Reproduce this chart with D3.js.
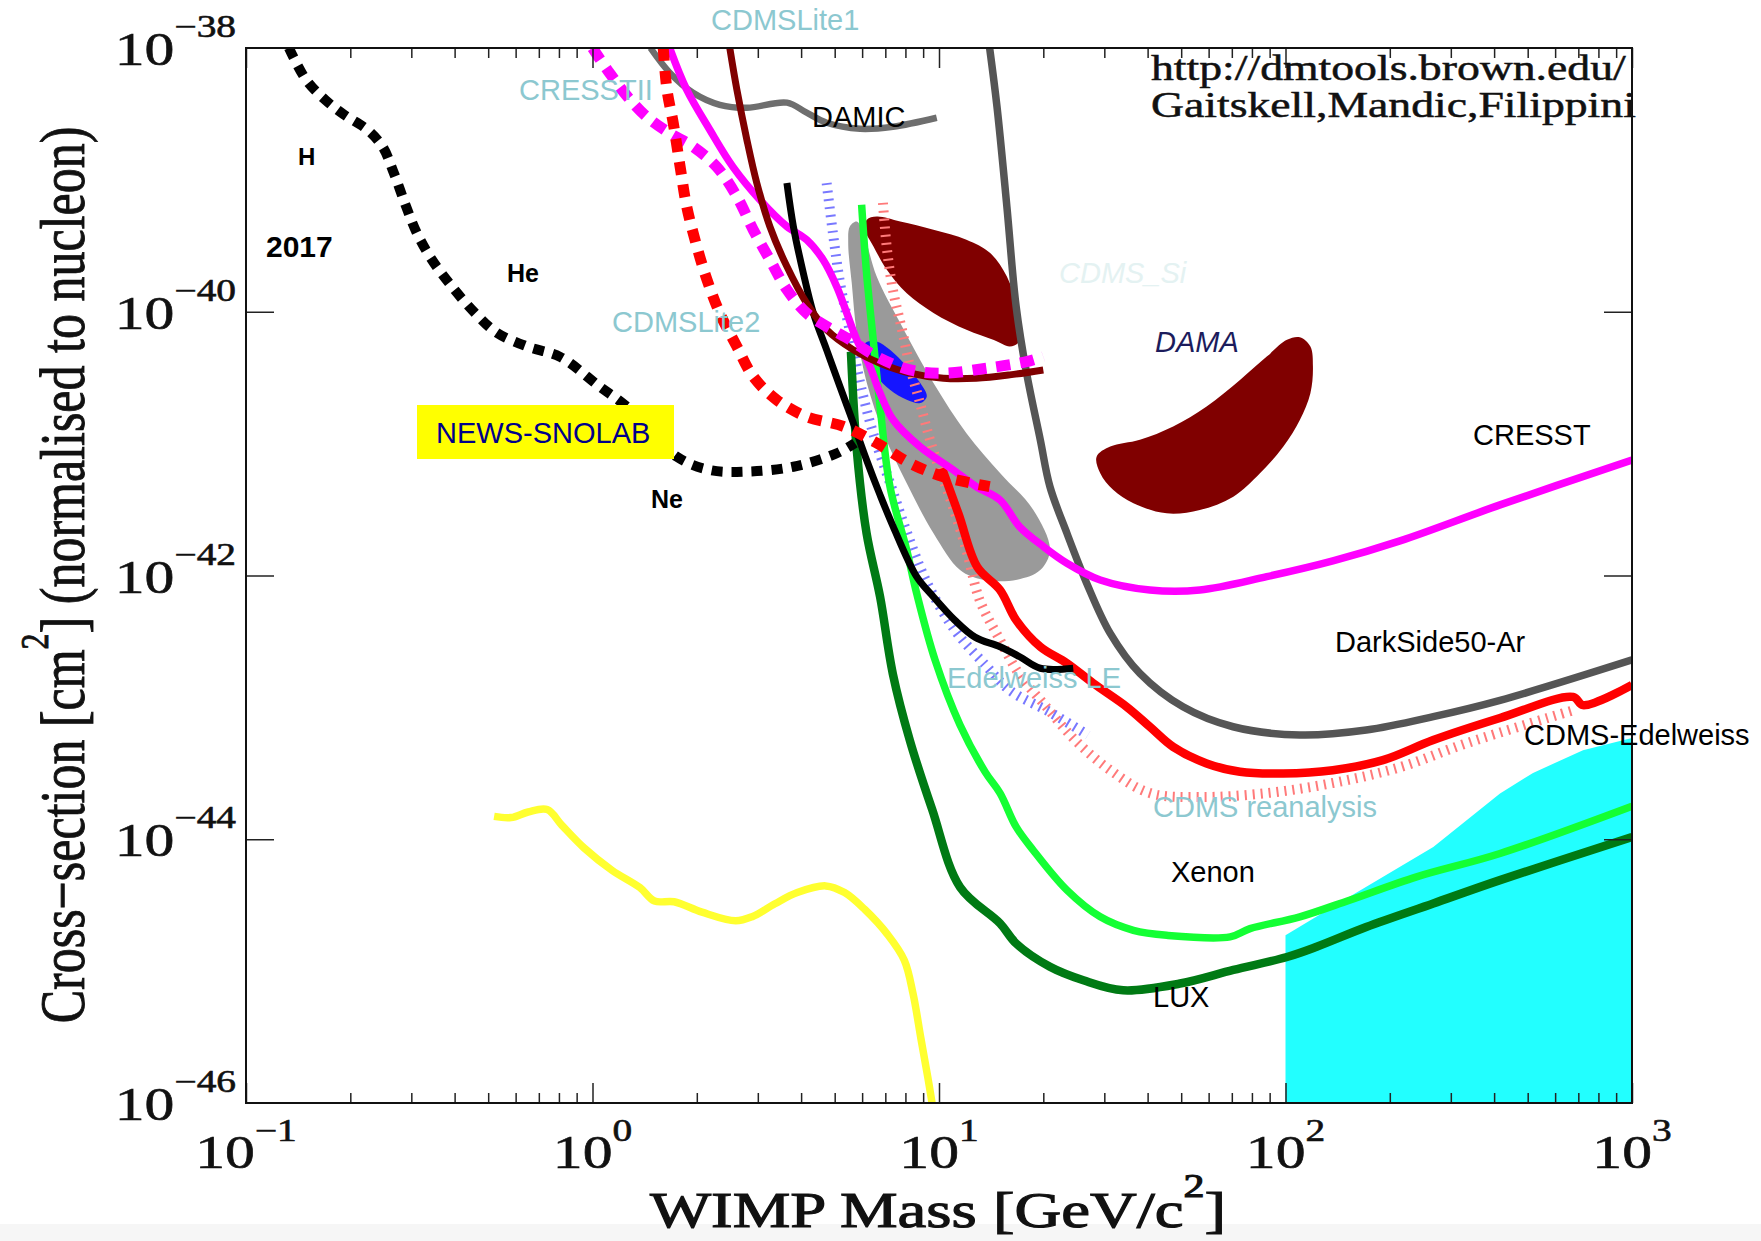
<!DOCTYPE html>
<html>
<head>
<meta charset="utf-8">
<script src="https://cdn.jsdelivr.net/npm/d3@7"></script>
<style>
  body { margin: 0; background: #fff; }
  svg { display: block; }
</style>
</head>
<body>
<svg id="chart" width="1761" height="1241"></svg>
<script>
// ---- data: [WIMP mass in GeV/c^2, cross-section in cm^2] ----
const news2017 = [[0.133,1e-38],[0.149,5.75e-39],[0.169,4.06e-39],[0.192,3.12e-39],[0.224,2.4e-39],[0.248,1.78e-39],
  [0.267,1.13e-39],[0.29,6.25e-40],[0.311,3.97e-40],[0.344,2.48e-40],[0.393,1.55e-40],[0.458,9.8e-41],[0.53,6.92e-41],
  [0.652,5.42e-41],[0.806,4.55e-41],[1.05,2.7e-41],[1.255,1.91e-41],[1.75,7.96e-42],[2.18,6.31e-42],[2.79,6.13e-42],
  [3.8,6.68e-42],[5.07,8.45e-42],[5.72,1.01e-41]];
const newsSnolab = [[0.52,1.49e-44],[0.582,1.46e-44],[0.652,1.61e-44],[0.74,1.68e-44],[0.815,1.28e-44],[0.945,8.6e-45],
  [1.14,5.8e-45],[1.37,4.3e-45],[1.51,3.4e-45],[1.72,3.36e-45],[2.07,2.8e-45],[2.59,2.41e-45],[2.9,2.6e-45],[3.36,3.24e-45],
  [3.9,3.94e-45],[4.71,4.43e-45],[5.34,3.94e-45],[6.11,2.93e-45],[7.1,1.9e-45],[7.94,1.21e-45],[8.42,6.7e-46],
  [8.87,3.07e-46],[9.29,1.55e-46],[9.55,1e-46]];
const darkSideAr = [[14.0,1e-38],[14.7,3.6e-39],[15.7,6.28e-40],[16.7,1.09e-40],[17.9,3.42e-41],[19.6,1.07e-41],
  [20.9,4.72e-42],[23.4,2.09e-42],[26.7,8.7e-43],[31.2,3.64e-43],[38.0,1.81e-43],[50.6,1.01e-43],[70.6,7.13e-44],
  [110,6.17e-44],[171,6.73e-44],[267,8.5e-44],[416,1.13e-43],[1000,2.29e-43]];
const damic = [[1.47,1e-38],[1.67,6.5e-39],[1.95,4.58e-39],[2.33,3.71e-39],[2.79,3.52e-39],[3.64,3.85e-39],
  [4.15,3.23e-39],[4.74,2.71e-39],[5.92,2.44e-39],[7.36,2.53e-39],[9.85,2.96e-39]];
const cresst = [[1.67,1e-38],[1.87,4.83e-39],[2.18,2.4e-39],[2.54,1.26e-39],[3.04,7.06e-40],[3.64,4.43e-40],
  [4.15,3.52e-40],[4.63,2.48e-40],[5.07,1.55e-40],[5.42,9.75e-41],[5.79,6.12e-41],[6.32,3.84e-41],[6.76,2.41e-41],
  [7.38,1.51e-41],[8.81,9.49e-42],[11.0,6.31e-42],[12.8,4.72e-42],[15.0,3.74e-42],[17.1,2.34e-42],[20.0,1.66e-42],
  [23.4,1.24e-42],[29.2,9.25e-43],[40.6,7.77e-43],[56.6,7.77e-43],[88.3,9.8e-43],[137,1.29e-42],[214,1.83e-42],
  [416,3.43e-42],[1000,7.52e-42]];
const cresstII = [[1.0,1e-38],[1.12,6.46e-39],[1.26,4.3e-39],[1.43,3.03e-39],[1.67,2.26e-39],[1.95,1.79e-39],
  [2.28,1.26e-39],[2.61,7.48e-40],[2.91,4.18e-40],[3.25,2.48e-40],[3.64,1.47e-40],[4.15,9.75e-41],[4.74,7.73e-41],
  [5.54,6.12e-41],[6.61,4.57e-41],[8.25,3.62e-41],[10.3,3.42e-41],[13.7,3.73e-41],[17.9,4.19e-41],[20.0,4.57e-41]];
const darkRedLimit = [[2.49,1e-38],[2.61,4.83e-39],[2.79,2.01e-39],[2.98,9.46e-40],[3.25,4.43e-40],[3.64,2.2e-40],
  [4.15,1.16e-40],[4.74,7.3e-41],[5.66,5.14e-41],[6.76,4.07e-41],[8.25,3.42e-41],[10.3,3.13e-41],[12.8,3.13e-41],
  [16.0,3.32e-41],[20.0,3.62e-41]];
const cdmsLite2 = [[1.6,1e-38],[1.64,4.83e-39],[1.71,2.7e-39],[1.79,1.26e-39],[1.87,6.28e-40],[2.0,3.13e-40],
  [2.14,1.75e-40],[2.33,9.75e-41],[2.61,5.45e-41],[2.91,3.22e-41],[3.4,2.15e-41],[4.15,1.6e-41],[5.3,1.35e-41],
  [6.61,1.01e-41],[8.25,7.1e-42],[10.3,5.62e-42],[14.0,4.72e-42]];
const cdmsEdelweiss = [[10.2,6.5e-42],[11.4,2.9e-42],[12.9,1.16e-42],[15.0,7.77e-43],[16.7,4.59e-43],
  [19.6,2.88e-43],[23.4,2.16e-43],[27.9,1.52e-43],[34.8,1.01e-43],[40.6,7.13e-44],[47.4,5.02e-44],[59.2,3.76e-44],
  [73.9,3.25e-44],[98.4,3.15e-44],[137,3.34e-44],[191,3.98e-44],[267,5.65e-44],[416,8.3e-44],[676,1.2e-43],
  [722,1.04e-43],[1000,1.48e-43]];
const cdmsReanalysis = [[6.89,6.7e-40],[7.08,2.95e-40],[7.36,1.47e-40],[7.82,7.3e-41],[8.25,3.82e-41],[8.81,2.04e-41],
  [9.61,8.95e-42],[10.8,3.74e-42],[12.0,1.56e-42],[13.1,6.52e-43],[15.0,3.24e-43],[17.1,1.76e-43],[20.2,1.04e-43],
  [24.7,5.65e-44],[31.2,3.34e-44],[40.6,2.24e-44],[56.6,2.09e-44],[88.4,2.24e-44],[137,2.67e-44],[214,3.52e-44],
  [334,5.36e-44],[676,9.5e-44]];
const edelweissLE = [[4.74,9.46e-40],[4.94,3.97e-40],[5.18,1.66e-40],[5.54,6.92e-41],[5.92,2.89e-41],[6.45,1.21e-41],
  [7.22,5.04e-42],[8.09,2.1e-42],[9.24,8.77e-43],[11.1,3.86e-43],[13.6,2.1e-43],[16.0,1.35e-43],[20.9,9.2e-44],
  [26.9,6.17e-44]];
const blackLimit = [[3.64,9.46e-40],[3.8,4.43e-40],[4.06,1.96e-40],[4.34,9.75e-41],[4.74,5.14e-41],[5.18,2.7e-41],
  [5.66,1.43e-41],[6.18,7.52e-42],[6.76,4.08e-42],[7.38,2.34e-42],[8.62,9.8e-43],[9.63,6.9e-43],[11.1,4.59e-43],
  [12.7,3.41e-43],[15.0,2.88e-43],[17.1,2.42e-43],[19.6,1.98e-43],[24.4,1.98e-43]];
const xenon = [[5.98,6.47e-40],[6.18,1.96e-40],[6.46,6.12e-41],[6.76,1.91e-41],[7.22,4.72e-42],[8.07,1.56e-42],
  [8.62,7.33e-43],[9.74,2.29e-43],[11.5,7.35e-44],[13.6,3.23e-44],[15.0,2.24e-44],[16.7,1.24e-44],[18.7,8.26e-45],
  [23.4,4.11e-45],[29.2,2.58e-45],[36.4,2.04e-45],[45.4,1.87e-45],[69.2,1.82e-45],[79.0,2.1e-45],[110,2.58e-45],
  [153,3.45e-45],[239,5.19e-45],[416,7.8e-45],[1000,1.78e-44]];
const lux = [[5.57,4.97e-41],[5.79,8.95e-42],[6.18,2.09e-42],[6.76,6.9e-43],[7.36,1.79e-43],[8.25,5.55e-44],
  [9.55,1.69e-44],[11.5,4.34e-45],[15.0,2.3e-45],[16.7,1.62e-45],[20.9,1.08e-45],[26.1,8.53e-46],[34.0,7.16e-46],
  [49.6,8.05e-46],[70.7,1.02e-45],[101,1.28e-45],[123,1.53e-45],[171,2.16e-45],[267,3.26e-45],[416,4.9e-45],
  [1000,1.04e-44]];

// closed regions
const grayRegion = [[5.53,4.44e-40],[5.79,4.84e-40],[6.05,3.95e-40],[6.61,1.85e-40],[7.73,8.2e-41],[9.64,2.88e-41],
  [12.0,1.2e-41],[15.0,5.98e-42],[18.7,3.15e-42],[20.9,1.57e-42],[19.6,1.1e-42],[16.8,9.3e-43],[13.4,9.3e-43],
  [11.5,1.1e-42],[9.64,2.09e-42],[8.07,5.0e-42],[6.92,1.2e-41],[6.19,2.88e-41],[5.79,6.9e-41],[5.6,1.65e-40],[5.47,3.3e-40]];
const upperRedRegion = [[6.19,4.99e-40],[6.61,5.28e-40],[7.73,4.84e-40],[9.64,4.19e-40],[12.0,3.52e-40],[14.05,2.79e-40],
  [15.7,1.85e-40],[16.8,1.1e-40],[17.3,7.3e-41],[16.9,5.8e-41],[16.0,5.46e-41],[14.4,6.1e-41],[12.0,7.3e-41],
  [9.64,9.8e-41],[8.07,1.38e-40],[7.07,2.08e-40],[6.47,3.13e-40],[6.12,4.19e-40]];
const damaRegion = [[28.5,7.96e-42],[31.2,9.49e-42],[38.0,1.07e-41],[47.4,1.35e-41],[59.2,1.91e-41],[73.9,3.04e-41],
  [88.3,4.57e-41],[101,6.12e-41],[110,6.41e-41],[118,5.45e-41],[120,3.84e-41],[118,2.41e-41],[110,1.51e-41],
  [98.6,9.49e-42],[84.4,5.96e-42],[70.7,3.96e-42],[56.6,3.14e-42],[45.4,2.96e-42],[36.4,3.53e-42],[31.8,4.46e-42],
  [29.2,5.96e-42]];
const blueRegion = [[6.12,5.78e-41],[6.61,5.96e-41],[7.22,5.15e-41],[8.07,3.85e-41],[8.83,2.88e-41],[9.22,2.28e-41],
  [8.83,2.03e-41],[8.07,2.15e-41],[7.22,2.56e-41],[6.61,3.23e-41],[6.19,4.33e-41]];
const cyanRegion = [[100,1e-46],[100,1.87e-45],[153,3.66e-45],[267,8.75e-45],[416,2.22e-44],[518,3.18e-44],
  [722,4.74e-44],[1000,5.85e-44],[1000,1e-46]];

// axis ticks
const massDecades = [0.1, 1, 10, 100, 1000];
const massExponents = ["\u22121", "0", "1", "2", "3"];
const sigmaTicks = [1e-38, 1e-40, 1e-42, 1e-44, 1e-46];
const sigmaExponents = ["\u221238", "\u221240", "\u221242", "\u221244", "\u221246"];

// ---- drawing ----
const serif = "'Liberation Serif', 'Times New Roman', serif";
const sans = "'Liberation Sans', Arial, sans-serif";
const stretch = 1.27;   // the original serif text is stretched sideways

const svg = d3.select("#chart");
svg.append("rect").attr("width", 1761).attr("height", 1241).attr("fill", "#fff");
svg.append("rect").attr("y", 1224).attr("width", 1761).attr("height", 17).attr("fill", "#f6f6f6");

const plot = { left: 246, right: 1632, top: 48, bottom: 1103 };
const x = d3.scaleLog().domain([0.1, 1000]).range([plot.left, plot.right]);
const y = d3.scaleLog().domain([1e-38, 1e-46]).range([plot.top, plot.bottom]);

svg.append("defs").append("clipPath").attr("id", "plot-clip")
  .append("rect")
  .attr("x", plot.left).attr("y", plot.top)
  .attr("width", plot.right - plot.left).attr("height", plot.bottom - plot.top);

const area = svg.append("g").attr("clip-path", "url(#plot-clip)");

const smooth = d3.line().x(d => x(d[0])).y(d => y(d[1])).curve(d3.curveCatmullRom.alpha(0.5));
const closed = d3.line().x(d => x(d[0])).y(d => y(d[1])).curve(d3.curveCatmullRomClosed.alpha(0.5));
const straight = d3.line().x(d => x(d[0])).y(d => y(d[1]));

// filled regions
area.append("path").attr("d", straight(cyanRegion) + "Z").attr("fill", "#22ffff");
area.append("path").attr("d", closed(grayRegion)).attr("fill", "#9a9a9a");
area.append("path").attr("d", closed(upperRedRegion)).attr("fill", "#800000");
area.append("path").attr("d", closed(damaRegion)).attr("fill", "#800000");
area.append("path").attr("d", closed(blueRegion)).attr("fill", "#1515ff");

// limit curves
const curves = [
  { data: cdmsReanalysis, color: "#ff7a7a", width: 10, dash: "2 6" },
  { data: edelweissLE, color: "#7878ff", width: 10, dash: "2 6" },
  { data: darkSideAr, color: "#555555", width: 7.5 },
  { data: damic, color: "#6e6e6e", width: 6.5 },
  { data: lux, color: "#007a14", width: 8.5 },
  { data: xenon, color: "#14ff34", width: 7.5 },
  { data: cdmsEdelweiss, color: "#ff0000", width: 8.5 },
  { data: cresst, color: "#ff00ff", width: 7.5 },
  { data: blackLimit, color: "#000000", width: 7 },
  { data: darkRedLimit, color: "#800000", width: 7 },
  { data: cresstII, color: "#ff00ff", width: 11, dash: "14 10" },
  { data: cdmsLite2, color: "#ff0000", width: 11, dash: "13 10" },
  { data: news2017, color: "#000000", width: 10, dash: "11 9" },
  { data: newsSnolab, color: "#ffff30", width: 7.5 }
];

area.selectAll("path.limit")
  .data(curves)
  .join("path")
  .attr("class", "limit")
  .attr("d", d => smooth(d.data))
  .attr("fill", "none")
  .attr("stroke", d => d.color)
  .attr("stroke-width", d => d.width)
  .attr("stroke-dasharray", d => d.dash || null)
  .attr("stroke-linejoin", "round");

// axes
const minorMass = massDecades.slice(0, -1).flatMap(d => d3.range(2, 10).map(m => m * d));

function styleAxis(g) {
  g.select(".domain").remove();
  g.selectAll(".tick line").attr("stroke", "#222").attr("stroke-width", 1.5);
}

svg.append("g").attr("transform", `translate(0,${plot.bottom})`)
  .call(d3.axisBottom(x).tickValues(minorMass).tickSize(-10).tickFormat("")).call(styleAxis);
svg.append("g").attr("transform", `translate(0,${plot.bottom})`)
  .call(d3.axisBottom(x).tickValues(massDecades).tickSize(-20).tickFormat("")).call(styleAxis);
svg.append("g").attr("transform", `translate(0,${plot.top})`)
  .call(d3.axisTop(x).tickValues(minorMass).tickSize(-10).tickFormat("")).call(styleAxis);
svg.append("g").attr("transform", `translate(0,${plot.top})`)
  .call(d3.axisTop(x).tickValues(massDecades).tickSize(-20).tickFormat("")).call(styleAxis);
svg.append("g").attr("transform", `translate(${plot.left},0)`)
  .call(d3.axisLeft(y).tickValues(sigmaTicks.slice(1, -1)).tickSize(-28).tickFormat("")).call(styleAxis);
svg.append("g").attr("transform", `translate(${plot.right},0)`)
  .call(d3.axisRight(y).tickValues(sigmaTicks.slice(1, -1)).tickSize(-28).tickFormat("")).call(styleAxis);

svg.append("rect")
  .attr("x", plot.left).attr("y", plot.top)
  .attr("width", plot.right - plot.left).attr("height", plot.bottom - plot.top)
  .attr("fill", "none").attr("stroke", "#111").attr("stroke-width", 2);

// tick labels with exponents
sigmaTicks.forEach((v, i) => {
  const t = svg.append("g")
    .attr("transform", `translate(236,${y(v) + 17}) scale(${stretch},1)`)
    .append("text")
    .attr("text-anchor", "end").attr("font-family", serif).attr("font-size", 47)
    .attr("fill", "#111").attr("stroke", "#111").attr("stroke-width", 0.6);
  t.append("tspan").text("10");
  t.append("tspan").attr("font-size", 31).attr("dy", -28).text(sigmaExponents[i]);
});

massDecades.forEach((v, i) => {
  const t = svg.append("g")
    .attr("transform", `translate(${x(v)},1168) scale(${stretch},1)`)
    .append("text")
    .attr("text-anchor", "middle").attr("font-family", serif).attr("font-size", 47)
    .attr("fill", "#111").attr("stroke", "#111").attr("stroke-width", 0.6);
  t.append("tspan").text("10");
  t.append("tspan").attr("font-size", 31).attr("dy", -27).text(massExponents[i]);
});

// axis titles
const xTitle = svg.append("g")
  .attr("transform", `translate(938,1227) scale(${stretch},1)`)
  .append("text")
  .attr("text-anchor", "middle").attr("font-family", serif).attr("font-size", 51)
  .attr("fill", "#111").attr("stroke", "#111").attr("stroke-width", 1.1);
xTitle.append("tspan").text("WIMP Mass [GeV/c");
xTitle.append("tspan").attr("font-size", 33).attr("dy", -30).text("2");
xTitle.append("tspan").attr("dy", 30).text("]");

const yTitle = svg.append("g")
  .attr("transform", `translate(84,575) scale(${stretch},1) rotate(-90)`)
  .append("text")
  .attr("text-anchor", "middle").attr("font-family", serif).attr("font-size", 50)
  .attr("fill", "#111").attr("stroke", "#111").attr("stroke-width", 0.7);
yTitle.append("tspan").text("Cross\u2212section [cm");
yTitle.append("tspan").attr("font-size", 32).attr("dy", -28).text("2");
yTitle.append("tspan").attr("dy", 28).text("] (normalised to nucleon)");

// credit lines
["http://dmtools.brown.edu/", "Gaitskell,Mandic,Filippini"].forEach((s, i) => {
  svg.append("g")
    .attr("transform", `translate(1151,${80 + i * 37}) scale(${stretch},1)`)
    .append("text")
    .attr("font-family", serif).attr("font-size", 36).attr("fill", "#111")
    .attr("stroke", "#111").attr("stroke-width", 0.5)
    .text(s);
});

// NEWS-SNOLAB tag
svg.append("rect").attr("x", 417).attr("y", 405).attr("width", 257).attr("height", 54).attr("fill", "#ffff00");

// annotations
const labels = [
  { text: "CDMSLite1", x: 711, y: 30, color: "#8cc8d0" },
  { text: "CRESSTII", x: 519, y: 100, color: "#8cc8d0" },
  { text: "DAMIC", x: 812, y: 127, color: "#000" },
  { text: "CDMSLite2", x: 612, y: 332, color: "#8cc8d0" },
  { text: "CDMS_Si", x: 1059, y: 283, color: "#e4f2f2", italic: true },
  { text: "DAMA", x: 1155, y: 352, color: "#1c1c5c", italic: true },
  { text: "CRESST", x: 1473, y: 445, color: "#000" },
  { text: "DarkSide50-Ar", x: 1335, y: 652, color: "#000" },
  { text: "Edelweiss LE", x: 947, y: 688, color: "#8cc8d0" },
  { text: "CDMS-Edelweiss", x: 1524, y: 745, color: "#000" },
  { text: "CDMS reanalysis", x: 1153, y: 817, color: "#8cc8d0" },
  { text: "Xenon", x: 1171, y: 882, color: "#000" },
  { text: "LUX", x: 1153, y: 1007, color: "#000" },
  { text: "NEWS-SNOLAB", x: 436, y: 443, color: "#00008b" },
  { text: "H", x: 298, y: 165, color: "#000", bold: true, size: 24 },
  { text: "2017", x: 266, y: 257, color: "#000", bold: true, size: 30 },
  { text: "He", x: 507, y: 282, color: "#000", bold: true, size: 25 },
  { text: "Ne", x: 651, y: 508, color: "#000", bold: true, size: 25 }
];

svg.append("g").selectAll("text")
  .data(labels)
  .join("text")
  .attr("x", d => d.x).attr("y", d => d.y)
  .attr("font-family", sans)
  .attr("font-size", d => d.size || 29)
  .attr("font-style", d => d.italic ? "italic" : null)
  .attr("font-weight", d => d.bold ? "bold" : null)
  .attr("fill", d => d.color)
  .text(d => d.text);
</script>
</body>
</html>
